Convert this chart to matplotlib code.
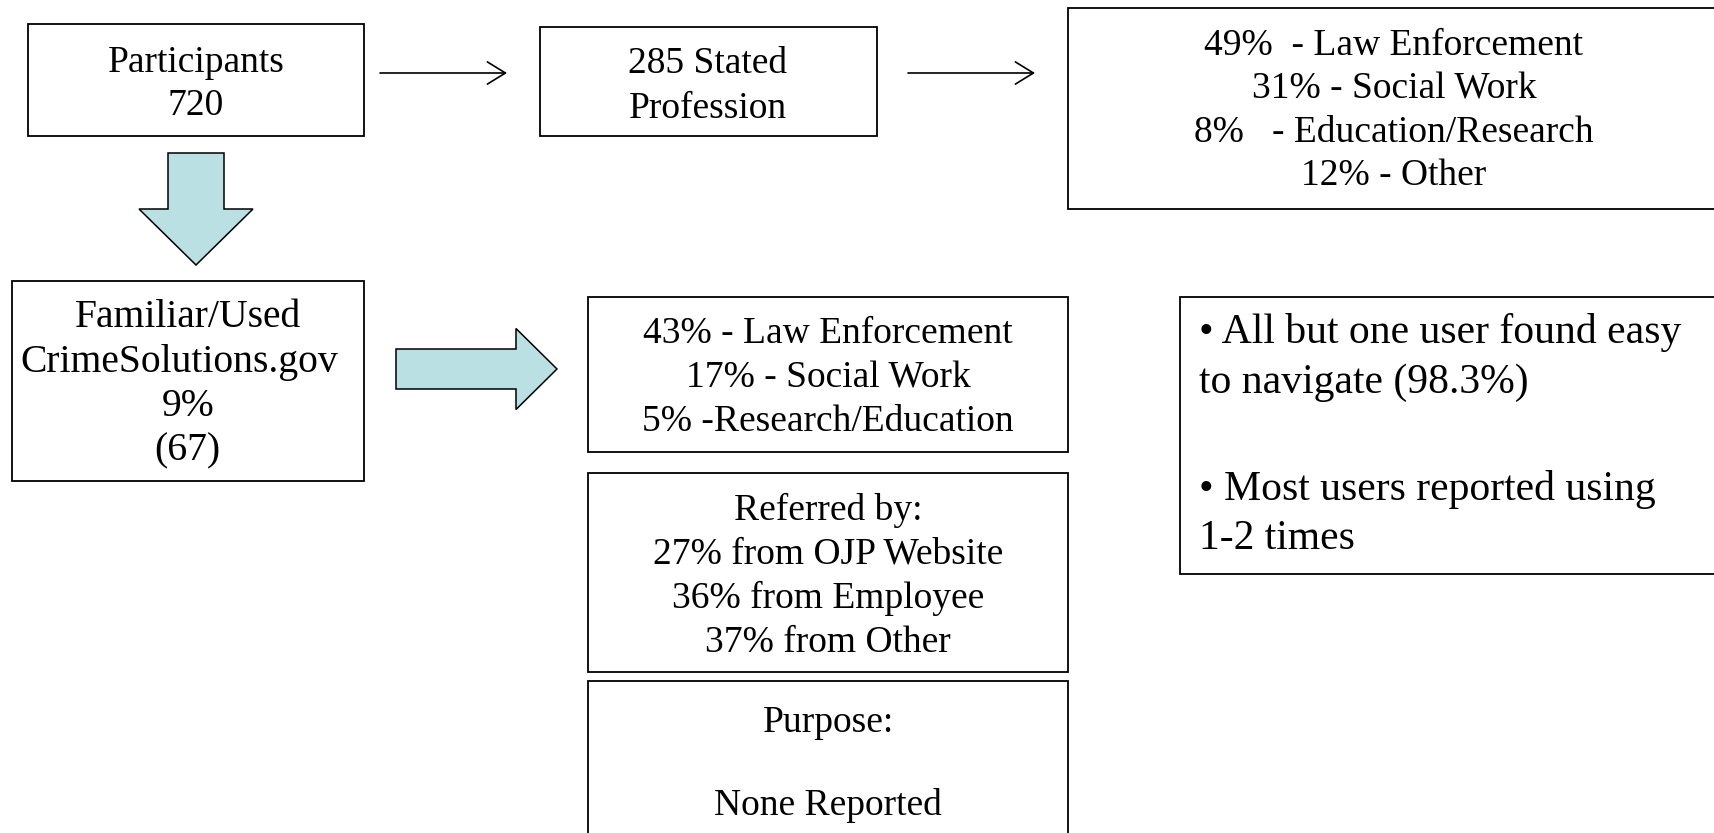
import matplotlib
matplotlib.use("Agg")
import matplotlib.pyplot as plt
import matplotlib.patches as mpatches

# Text content of the flow chart
participants_lines = ["Participants", "720"]
stated_lines = ["285 Stated", "Profession"]
profession_lines = [
    "49%  - Law Enforcement",
    "31% - Social Work",
    "8%   - Education/Research",
    "12% - Other",
]
familiar_lines = ["Familiar/Used", "CrimeSolutions.gov", "9%", "(67)"]
users_lines = [
    "43% - Law Enforcement",
    "17% - Social Work",
    "5% -Research/Education",
]
referred_lines = [
    "Referred by:",
    "27% from OJP Website",
    "36% from Employee",
    "37% from Other",
]
purpose_lines = ["Purpose:", "", "None Reported"]
notes_lines = [
    "\u2022 All but one user found easy",
    "to navigate (98.3%)",
    "",
    "\u2022 Most users reported using",
    "1-2 times",
]

FONT = "Liberation Serif"
ARROW_FILL = "#bae0e3"
W, H = 1715, 833

fig = plt.figure(figsize=(W / 100, H / 100), dpi=100)
ax = fig.add_axes([0, 0, 1, 1])
ax.set_xlim(0, W)
ax.set_ylim(H, 0)
ax.axis("off")


def box(x0, y0, x1, y1):
    ax.add_patch(mpatches.Rectangle((x0, y0), x1 - x0, y1 - y0,
                                    facecolor="white", edgecolor="black",
                                    linewidth=1.3, zorder=2))


def centered_lines(lines, xs, baselines, size):
    if not isinstance(xs, (list, tuple)):
        xs = [xs] * len(lines)
    for txt, x, y in zip(lines, xs, baselines):
        ax.text(x, y, txt, ha="center", va="baseline", fontsize=size,
                family=FONT, zorder=3)


# boxes
box(28, 24, 364, 136)
box(540, 27, 877, 136)
box(1068, 8, 1722, 209)
box(12, 281, 364, 481)
box(588, 297, 1068, 452)
box(588, 473, 1068, 672)
box(588, 681, 1068, 845)
box(1180, 297, 1722, 574)

centered_lines(participants_lines, 196, [72, 115], 27)
centered_lines(stated_lines, 708, [73, 118], 27)
centered_lines(profession_lines, 1394, [55, 98, 142, 185], 27)
centered_lines(familiar_lines, [188, 179, 188, 187], [327, 372, 416, 460], 28.5)
centered_lines(users_lines, 828, [343, 387, 431], 27)
centered_lines(referred_lines, 828, [520, 564, 608, 652], 27)
centered_lines(purpose_lines, 828, [732, 774, 815], 27)

for txt, y in zip(notes_lines, [343, 393, 447, 500, 549]):
    ax.text(1199, y, txt, ha="left", va="baseline", fontsize=30,
            family=FONT, zorder=3)

# thin arrows
for x0, x1 in [(380, 507), (908, 1035)]:
    ax.annotate("", xy=(x1, 73), xytext=(x0, 73),
                arrowprops=dict(arrowstyle="->,head_length=1.3,head_width=0.8",
                                lw=1.2, color="black", shrinkA=0, shrinkB=0))

# fat arrows
ax.add_patch(mpatches.FancyArrow(196, 153, 0, 112, width=56, head_width=114,
                                 head_length=56, length_includes_head=True,
                                 facecolor=ARROW_FILL, edgecolor="black",
                                 linewidth=1.1, zorder=2))
ax.add_patch(mpatches.FancyArrow(396, 369, 161, 0, width=40, head_width=81,
                                 head_length=41, length_includes_head=True,
                                 facecolor=ARROW_FILL, edgecolor="black",
                                 linewidth=1.1, zorder=2))

fig.savefig("out.png", dpi=100)
